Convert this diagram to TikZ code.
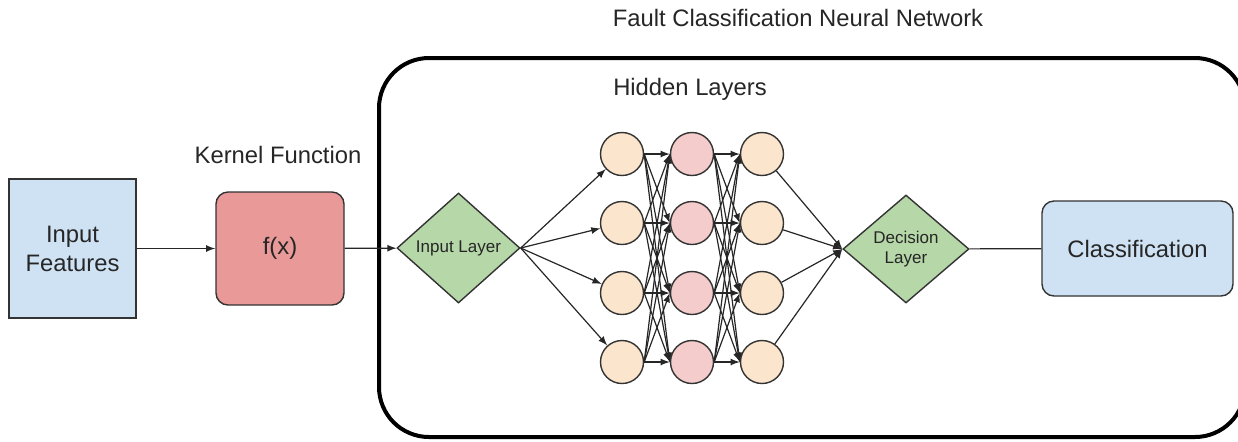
\documentclass[tikz,border=0pt]{standalone}
\usepackage{fontspec}
\setmainfont{Liberation Sans}
\usetikzlibrary{arrows,shapes,positioning}
\definecolor{featblue}{HTML}{CFE2F3}
\definecolor{kernred}{HTML}{EA9999}
\definecolor{laygreen}{HTML}{B6D7A8}
\definecolor{peach}{HTML}{FCE5CD}
\definecolor{rose}{HTML}{F4CCCC}
\tikzset{
  box/.style={draw=black!80,line width=0.7pt,inner sep=0pt},
  neuron/.style={circle,box,minimum size=21.5pt},
  layer/.style={diamond,box,fill=laygreen,font=\fontsize{8.5}{10}\selectfont,align=center},
  conn/.style={->,>=latex,line width=0.6pt,black!85},
}
\begin{document}
\begin{tikzpicture}[x=0.5pt,y=-0.5pt,font=\fontsize{11.9}{14.5}\selectfont,text=black!85]
\useasboundingbox (0,0) rectangle (1238,441);
% Network frame
\draw[line width=2pt,rounded corners=25pt] (379,58) rectangle (1245,437);
\node (title) at (798,18) {Fault Classification Neural Network};
\node (hid) at (690,89) {Hidden Layers};

% Input and kernel
\node[box,rectangle,fill=featblue,minimum width=63.5pt,minimum height=69.5pt,align=center] (feat) at (72.5,248.5) {Input\\Features};
\node[box,rectangle,rounded corners=6pt,fill=kernred,minimum width=64pt,minimum height=56.5pt] (fx) at (280,248.5) {f(x)};
\node (kern) at (278,155) {Kernel Function};

% Input and decision layers
\node[layer,minimum width=61.5pt,minimum height=55pt] (inlay) at (458.5,248) {Input Layer};
\node[layer,minimum width=63pt,minimum height=54pt] (dec) at (906,249) {Decision\\Layer};
\node[box,rectangle,rounded corners=6pt,fill=featblue,minimum width=95.5pt,minimum height=47.5pt] (cls) at (1137.5,248.5) {Classification};

% Hidden neurons
\foreach \y [count=\j] in {154,223,293,362} {
  \node[neuron,fill=peach] (a\j) at (622,\y) {};
  \node[neuron,fill=rose] (b\j) at (692,\y) {};
  \node[neuron,fill=peach] (c\j) at (762,\y) {};
}

% Connections
\draw[conn] (feat) -- (fx);
\draw[conn] (fx) -- (inlay);
\draw[line width=0.6pt,black!85] (dec) -- (cls);
\foreach \i in {1,...,4} {
  \draw[conn] (inlay.east) -- (a\i);
  \draw[conn] (c\i) -- (dec.west);
  \foreach \k in {1,...,4} {
    \draw[conn] (a\i.east) -- (b\k.west);
    \draw[conn] (b\i.east) -- (c\k.west);
  }
}
\end{tikzpicture}
\end{document}
